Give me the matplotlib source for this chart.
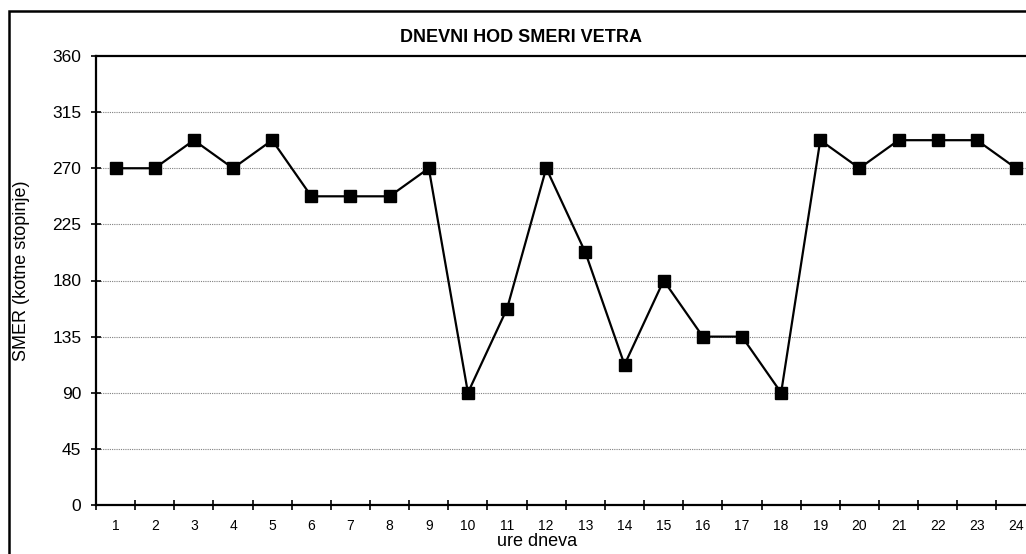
import matplotlib.pyplot as plt
from matplotlib.patches import Rectangle

# hourly wind direction (degrees)
ure = list(range(1, 25))
smer = [270, 270, 292.5, 270, 292.5, 247.5, 247.5, 247.5, 270, 90,
        157.5, 270, 202.5, 112.5, 180, 135, 135, 90, 292.5, 270,
        292.5, 292.5, 292.5, 270]
y_ticks = [0, 45, 90, 135, 180, 225, 270, 315, 360]

plt.rcParams['font.family'] = ['Liberation Sans', 'DejaVu Sans']

W, H = 1026, 554
fig = plt.figure(figsize=(W / 100, H / 100), dpi=100)

# plot area runs a little past the right edge of the figure
left, right, top, bottom = 96, 1035.6, 56, 505
ax = fig.add_axes([left / W, 1 - bottom / H, (right - left) / W, (bottom - top) / H])

ax.plot(ure, smer, color='black', lw=1.6, marker='s', markersize=8,
        markerfacecolor='black', markeredgecolor='black', clip_on=False, zorder=3)

ax.set_xlim(0.5, 24.5)
ax.set_ylim(0, 360)

ax.set_yticks(y_ticks)
ax.set_yticklabels([str(v) for v in y_ticks], fontsize=12.5)
ax.tick_params(axis='y', direction='inout', length=7, width=1.2, pad=7)

# category labels under the points, tick marks between categories
ax.set_xticks(ure)
ax.set_xticklabels([str(h) for h in ure], fontsize=10,
                   family=['Liberation Sans Narrow', 'Liberation Sans'])
ax.tick_params(axis='x', which='major', length=0, pad=10)
ax.set_xticks([h - 0.5 for h in ure] + [24.5], minor=True)
ax.tick_params(axis='x', which='minor', direction='inout', length=7, width=1.2)

for v in y_ticks[1:-1]:
    ax.axhline(v, color='#808080', lw=0.8, ls=(0, (1, 1)), zorder=1)

for side in ['left', 'top', 'bottom', 'right']:
    ax.spines[side].set_linewidth(1.6)
    ax.spines[side].set_color('black')

# chart area border
fig.patches.append(Rectangle((8.5 / W, -0.2), 2, 1.2 - 10.5 / H, transform=fig.transFigure,
                             fill=False, edgecolor='black', lw=1.8))

fig.text(521 / W, 1 - 38 / H, 'DNEVNI HOD SMERI VETRA', ha='center', va='center',
         fontsize=13, fontweight='bold')
fig.text(22 / W, 1 - 271 / H, 'SMER (kotne stopinje)', ha='center', va='center',
         rotation=90, fontsize=13)
fig.text(537 / W, 1 - 542 / H, 'ure dneva', ha='center', va='center', fontsize=13)

fig.savefig('out.png', dpi=100)
